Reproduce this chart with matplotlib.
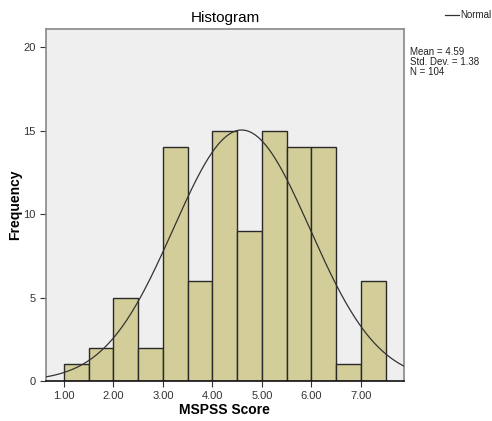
import numpy as np
import matplotlib
matplotlib.use('Agg')
from matplotlib import pyplot as plt

plt.rcParams['font.family'] = ['Liberation Sans', 'DejaVu Sans']

bin_left = [1.0, 1.5, 2.0, 2.5, 3.0, 3.5, 4.0, 4.5, 5.0, 5.5, 6.0, 6.5, 7.0]
counts = [1, 2, 5, 2, 14, 6, 15, 9, 15, 14, 14, 1, 6]
bin_width = 0.5
mean = 4.59
std = 1.38
n = 104

x_ticks = [1, 2, 3, 4, 5, 6, 7]
x_tick_labels = ['1.00', '2.00', '3.00', '4.00', '5.00', '6.00', '7.00']
y_ticks = [0, 5, 10, 15, 20]

fig = plt.figure(figsize=(4.92, 4.21), dpi=100)
ax = fig.add_axes([0.0935, 0.095, 0.7275, 0.836])
ax.set_facecolor('#efefef')

ax.bar(bin_left, counts, width=bin_width, align='edge', color='#d3ce99',
       edgecolor='#2a2a2a', linewidth=1.0, zorder=2)

xs = np.linspace(0.6, 7.9, 400)
ys = n * bin_width * np.exp(-0.5 * ((xs - mean) / std) ** 2) / (std * np.sqrt(2 * np.pi))
ax.plot(xs, ys, color='#333333', linewidth=0.9, zorder=3)

ax.set_xlim(0.636, 7.87)
ax.set_ylim(0, 21.08)
ax.set_xticks(x_ticks, x_tick_labels)
ax.set_yticks(y_ticks)
ax.tick_params(labelsize=8, length=4, width=0.8, color='#333333', labelcolor='#333333')

for s in ['top', 'right', 'left']:
    ax.spines[s].set_color('#888888')
    ax.spines[s].set_linewidth(1.2)
ax.spines['bottom'].set_color('#111111')
ax.spines['bottom'].set_linewidth(1.2)

ax.set_title('Histogram', fontsize=11, pad=5)
fig.text(224 / 492, 1 - 410 / 421, 'MSPSS Score', fontsize=10, fontweight='bold',
         ha='center', va='center')
fig.text(15 / 492, 1 - 205 / 421, 'Frequency', fontsize=10, fontweight='bold',
         ha='center', va='center', rotation=90)

fig.lines.append(plt.Line2D([445 / 492, 459 / 492], [1 - 15 / 421, 1 - 15 / 421],
                            color='#333333', linewidth=0.9, transform=fig.transFigure))
fig.text(460 / 492, 1 - 15 / 421, 'Normal', fontsize=7, va='center', ha='left', color='#222222')
fig.text(410 / 492, 1 - 47 / 421,
         'Mean = %.2f\nStd. Dev. = %.2f\nN = %d' % (mean, std, n),
         fontsize=7, va='top', ha='left', linespacing=1.0, color='#222222')

plt.savefig('out.png', dpi=100)
